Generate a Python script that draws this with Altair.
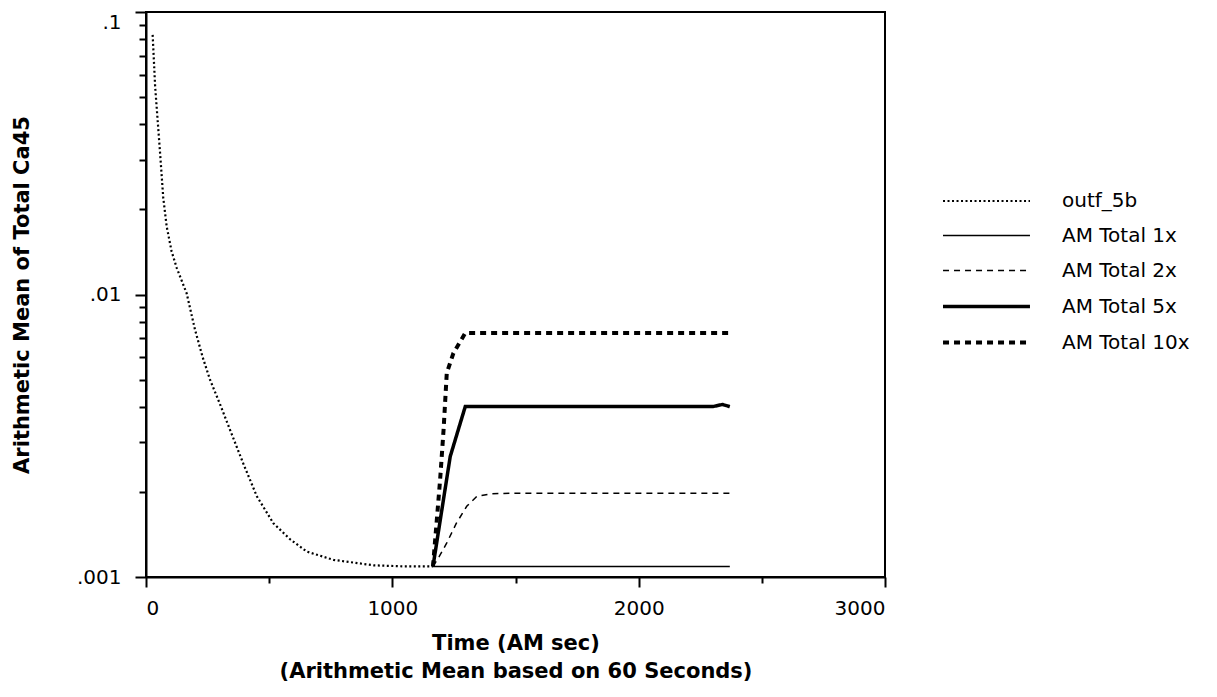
import altair as alt
import pandas as pd

series_names = ["outf_5b", "AM Total 1x", "AM Total 2x", "AM Total 5x", "AM Total 10x"]

t_outf = [27, 37, 57, 70, 84, 104, 125, 165, 199, 230, 260, 300, 341, 395, 450, 517, 585, 653, 761, 924, 1050, 1165]
v_outf = [0.083, 0.0546, 0.0318, 0.022, 0.0174, 0.0142, 0.0124, 0.0101, 0.0075, 0.006, 0.00499, 0.0041,
          0.00332, 0.00252, 0.00193, 0.00155, 0.00136, 0.00123, 0.00115, 0.0011, 0.00109, 0.00109]

t_1x = [1165, 1800, 2370]
v_1x = [0.00109, 0.00109, 0.00109]

t_2x = [1165, 1190, 1221, 1260, 1302, 1343, 1400, 1478, 2370]
v_2x = [0.00109, 0.00118, 0.00132, 0.00155, 0.00178, 0.00193, 0.00197, 0.00198, 0.00198]

t_5x = [1165, 1235, 1296, 2300, 2340, 2370]
v_5x = [0.00109, 0.00267, 0.00401, 0.00401, 0.00408, 0.00401]

t_10x = [1165, 1194, 1208, 1221, 1248, 1296, 2370]
v_10x = [0.00109, 0.00221, 0.00332, 0.00527, 0.0062, 0.0073, 0.0073]

x_ticks = [0, 500, 1000, 1500, 2000, 2500, 3000]
y_ticks = [0.001, 0.002, 0.003, 0.004, 0.005, 0.006, 0.007, 0.008, 0.009,
           0.01, 0.02, 0.03, 0.04, 0.05, 0.06, 0.07, 0.08, 0.09, 0.1]

dash_range = [[2, 2.5], [1, 0], [6, 5], [1, 0], [6, 5]]
width_range = [2.2, 1.5, 1.5, 3.5, 4]

rows = []
for name, ts, vs in zip(series_names,
                        [t_outf, t_1x, t_2x, t_5x, t_10x],
                        [v_outf, v_1x, v_2x, v_5x, v_10x]):
    for i, (t, v) in enumerate(zip(ts, vs)):
        rows.append({"series": name, "t": t, "value": v, "order": i})
df = pd.DataFrame(rows)

FONT = "DejaVu Sans"

legend = alt.Legend(
    title=None, orient="none", legendX=815, legendY=164, padding=0,
    symbolType="M-1.85,0L1.85,0", symbolSize=2209, symbolStrokeColor="black",
    symbolFillColor="transparent",
    labelFont=FONT, labelFontSize=20, labelColor="black", labelOffset=50,
    rowPadding=0,
)

chart = alt.Chart(df).mark_line(color="black", strokeCap="butt").encode(
    x=alt.X("t:Q", scale=alt.Scale(domain=[0, 3000], nice=False),
            axis=alt.Axis(
                values=x_ticks,
                labelExpr="datum.value % 1000 === 0 ? datum.label : ''",
                format="d",
                tickSize={"condition": {"test": "datum.value % 1000 === 0", "value": 10}, "value": 6},
                labelPadding=11,
                title=["Time (AM sec)", "(Arithmetic Mean based on 60 Seconds)"],
                titlePadding=14,
                titleLineHeight=28,
            )),
    y=alt.Y("value:Q", scale=alt.Scale(type="log", domain=[0.001, 0.1], nice=False),
            axis=alt.Axis(
                values=y_ticks,
                labelExpr="datum.value == 0.1 ? '.1' : datum.value == 0.01 ? '.01' : datum.value == 0.001 ? '.001' : ''",
                labelBaseline={"condition": {"test": "datum.value == 0.1", "value": "top"}, "value": "middle"},
                tickSize={"condition": {"test": "datum.value == 0.1 || datum.value == 0.01 || datum.value == 0.001", "value": 11}, "value": 7},
                labelPadding=14,
                title="Arithmetic Mean of Total Ca45",
                titlePadding=44,
            )),
    strokeDash=alt.StrokeDash("series:N", scale=alt.Scale(domain=series_names, range=dash_range),
                              legend=legend, sort=series_names),
    strokeWidth=alt.StrokeWidth("series:N", scale=alt.Scale(type="ordinal", domain=series_names, range=width_range),
                                legend=legend, sort=series_names),
    order="order:Q",
).properties(
    width=739, height=565,
    autosize=alt.AutoSizeParams(type="none"),
    padding={"left": 138, "top": 4, "right": 324, "bottom": 108},
).configure_view(
    stroke="black", strokeWidth=2,
).configure_axis(
    grid=False, domainColor="black", domainWidth=2, tickColor="black", tickWidth=2,
    labelFont=FONT, labelFontSize=20, labelColor="black",
    titleFont=FONT, titleFontSize=21, titleFontWeight="bold", titleColor="black",
)

chart.save("out.html", embed_options={"renderer": "svg", "actions": False})
